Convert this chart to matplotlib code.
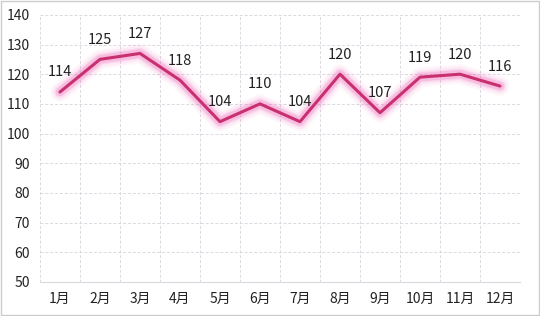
''' monthly line chart with glow '''
import matplotlib
matplotlib.use('Agg')
import matplotlib.pyplot as plt
import numpy as np

plt.rcParams['font.family'] = ['Noto Sans CJK SC', 'DejaVu Sans']

MONTHS = ['1月', '2月', '3月', '4月', '5月', '6月', '7月', '8月', '9月', '10月', '11月', '12月']
VALUES = [114, 125, 127, 118, 104, 110, 104, 120, 107, 119, 120, 116]
Y_TICKS = [50, 60, 70, 80, 90, 100, 110, 120, 130, 140]


def main():
    '''main function'''
    fig = plt.figure(figsize=(5.4, 3.16), dpi=100)
    ax = fig.add_axes([0.074, 0.108, 0.889, 0.845])
    x = np.arange(len(MONTHS))

    # glow
    for lw, alpha in [(14, 0.05), (11, 0.08), (8, 0.14), (6, 0.22)]:
        ax.plot(x, VALUES, color='#f060b8', lw=lw, alpha=alpha,
                solid_capstyle='round', solid_joinstyle='round')
    ax.plot(x, VALUES, color='#c8306f', lw=2.2,
            solid_capstyle='round', solid_joinstyle='round')

    for xi, v in zip(x, VALUES):
        ax.annotate(str(v), (xi, v), xytext=(0, 9), textcoords='offset points',
                    ha='center', va='bottom', fontsize=10.5, color='#222222')

    ax.set_xlim(-0.5, len(MONTHS) - 0.5)
    ax.set_ylim(50, 140)
    ax.set_yticks(Y_TICKS)
    ax.set_xticks(x)
    ax.set_xticklabels(MONTHS)
    ax.set_xticks(np.arange(-0.5, len(MONTHS), 1), minor=True)
    ax.tick_params(axis='both', length=0, labelsize=10, colors='#222222')
    ax.tick_params(axis='x', which='minor', length=0)
    ax.tick_params(axis='x', pad=7)
    ax.tick_params(axis='y', pad=7)

    ax.grid(axis='y', which='major', color='#dcd8e0', ls=(0, (3, 2)), lw=0.7)
    ax.grid(axis='x', which='minor', color='#dcd8e0', ls=(0, (3, 2)), lw=0.7)
    for s in ['top', 'right', 'left']:
        ax.spines[s].set_visible(False)
    ax.spines['bottom'].set_color('#dcd8e0')
    ax.spines['bottom'].set_linewidth(0.8)

    fig.patches.append(plt.Rectangle((0.002, 0.003), 0.996, 0.994, transform=fig.transFigure,
                                     fill=False, edgecolor='#cccccc', lw=1))
    fig.savefig('out.png', dpi=100)


if __name__ == "__main__":
    main()
